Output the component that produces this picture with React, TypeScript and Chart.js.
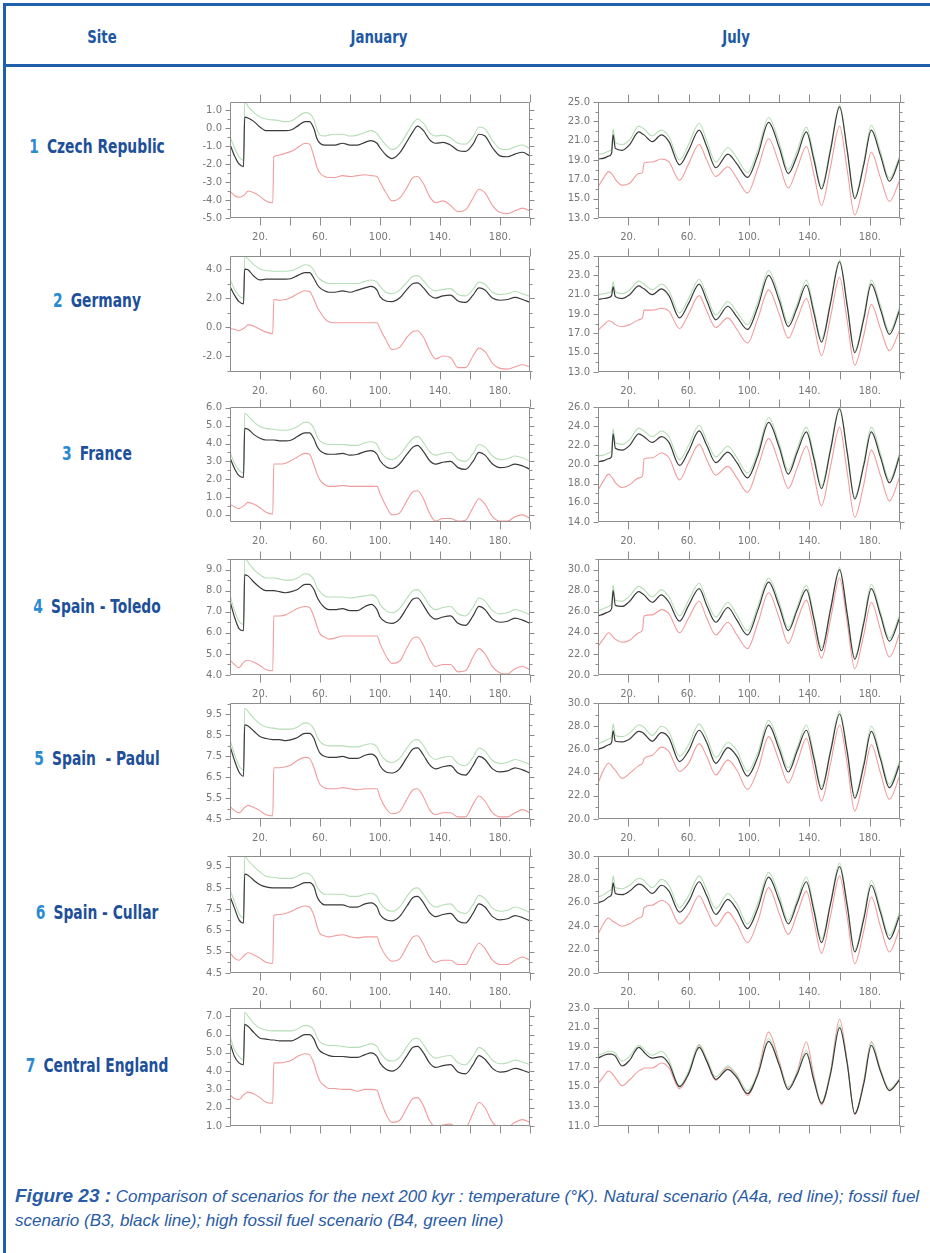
import React, { useEffect, useRef } from "react";
import { Chart, registerables } from "chart.js";

Chart.register(...registerables);

// ---------------- time axis (kyr from present) ----------------
const JAN_KYR = [
  0, 3, 6, 9, 9.8, 12, 16, 20, 24, 28.5, 29.2, 33, 37,
  41, 45, 50, 53, 56, 58, 60, 63, 66, 70, 75, 80, 85,
  90, 94, 98, 100, 104, 108, 113, 118, 122, 125, 129, 133, 137,
  142, 147, 152, 157, 162, 166, 170, 175, 180, 185, 190, 195, 200,
];
const JUL_KYR = [
  0, 4, 7, 9, 10, 11.5, 16, 21, 27, 29.5, 30.5, 36, 42,
  47, 54, 60, 67, 72, 78, 86, 92, 99, 106, 113, 120, 126,
  132, 138, 143, 148, 154, 160, 165, 170, 176, 181, 187, 193, 200,
];
const X_LABELS = [20, 60, 100, 140, 180];
const X_MARKS = [20, 40, 60, 80, 100, 120, 140, 160, 180, 200];

// ---------------- January temperatures ----------------
const czechJanBlack = [
  -0.9, -1.55, -2.0, -2.15, 0.6, 0.55, 0.35, 0.05, -0.15, -0.15, -0.15, -0.15, -0.15,
  -0.1, 0.1, 0.35, 0.35, -0.05, -0.6, -0.85, -0.95, -0.95, -0.95, -0.85, -0.95, -0.95,
  -0.8, -0.7, -0.85, -1.1, -1.5, -1.7, -1.4, -0.75, -0.2, 0.1, -0.15, -0.65, -0.85,
  -0.8, -0.95, -1.25, -1.3, -0.9, -0.35, -0.45, -1.1, -1.55, -1.6, -1.45, -1.35, -1.55,
];
const czechJanGreen = [
  -0.5, -1.1, -1.6, -1.8, 1.45, 1.2, 0.85, 0.6, 0.5, 0.45, 0.45, 0.4, 0.35,
  0.4, 0.6, 0.85, 0.8, 0.45, -0.1, -0.4, -0.45, -0.4, -0.35, -0.35, -0.45, -0.4,
  -0.25, -0.15, -0.3, -0.55, -0.95, -1.2, -0.95, -0.3, 0.25, 0.5, 0.25, -0.25, -0.45,
  -0.4, -0.55, -0.85, -0.9, -0.5, 0.05, -0.05, -0.7, -1.15, -1.2, -1.05, -0.95, -1.15,
];
const czechJanRed = [
  -3.5, -3.75, -3.85, -3.75, -3.7, -3.5, -3.6, -3.8, -4.05, -4.15, -1.6, -1.5, -1.4,
  -1.3, -1.1, -0.85, -0.9, -1.6, -2.2, -2.5, -2.7, -2.75, -2.75, -2.65, -2.7, -2.65,
  -2.6, -2.65, -2.7, -3.0, -3.6, -4.05, -3.9, -3.3, -2.75, -2.7, -3.1, -3.8, -4.15,
  -4.05, -4.3, -4.65, -4.55, -3.9, -3.4, -3.6, -4.3, -4.7, -4.75, -4.6, -4.45, -4.6,
];

const germanyJanBlack = [
  2.8, 2.2, 1.75, 1.6, 4.0, 3.95, 3.5, 3.25, 3.3, 3.3, 3.3, 3.3, 3.3,
  3.35, 3.55, 3.75, 3.75, 3.35, 2.95, 2.7, 2.5, 2.4, 2.4, 2.5, 2.4, 2.55,
  2.7, 2.8, 2.55, 2.1, 1.8, 1.75, 2.0, 2.6, 3.0, 3.05, 2.7, 2.2, 2.0,
  2.15, 2.2, 1.8, 1.7, 2.2, 2.7, 2.55, 2.0, 1.85, 1.9, 2.05, 1.9, 1.7,
];
const germanyJanGreen = [
  3.3, 2.6, 2.15, 2.0, 4.85, 4.7, 4.3, 4.0, 3.9, 3.85, 3.85, 3.85, 3.85,
  3.9, 4.05, 4.3, 4.25, 3.9, 3.5, 3.3, 3.1, 3.0, 3.0, 3.0, 3.0, 3.0,
  3.15, 3.25, 3.1, 2.8, 2.4, 2.3, 2.55, 3.1, 3.5, 3.55, 3.2, 2.7, 2.5,
  2.6, 2.65, 2.25, 2.15, 2.6, 3.1, 2.95, 2.4, 2.25, 2.3, 2.45, 2.3, 2.1,
];
const germanyJanRed = [
  -0.1, -0.15, -0.25, -0.1, -0.05, 0.15, 0.05, -0.15, -0.35, -0.45, 1.9, 1.85, 1.9,
  2.05, 2.3, 2.5, 2.45, 1.9, 1.4, 1.05, 0.6, 0.35, 0.3, 0.3, 0.3, 0.3,
  0.3, 0.3, 0.3, -0.1, -0.9, -1.55, -1.4, -0.7, -0.3, -0.25, -0.7, -1.6, -2.2,
  -2.0, -2.1, -2.8, -2.8, -2.0, -1.45, -1.7, -2.5, -2.85, -2.9, -2.75, -2.6, -2.75,
];

const franceJanBlack = [
  3.2, 2.6, 2.2, 2.1, 4.85, 4.8, 4.5, 4.3, 4.2, 4.2, 4.2, 4.15, 4.15,
  4.2, 4.4, 4.6, 4.6, 4.25, 3.85, 3.6, 3.45, 3.4, 3.4, 3.45, 3.35, 3.4,
  3.55, 3.6, 3.4, 3.05, 2.7, 2.6, 2.85, 3.4, 3.8, 3.9, 3.55, 3.05, 2.85,
  2.95, 3.0, 2.65, 2.55, 3.0, 3.5, 3.35, 2.85, 2.65, 2.7, 2.85, 2.75, 2.55,
];
const franceJanGreen = [
  3.5, 2.9, 2.5, 2.35, 5.7, 5.55, 5.2, 4.95, 4.85, 4.8, 4.8, 4.75, 4.75,
  4.8, 4.95, 5.2, 5.15, 4.85, 4.4, 4.15, 4.0, 3.95, 3.95, 3.95, 3.9, 3.9,
  4.05, 4.1, 3.95, 3.6, 3.2, 3.1, 3.35, 3.9, 4.3, 4.4, 4.05, 3.55, 3.35,
  3.45, 3.5, 3.1, 3.0, 3.45, 3.95, 3.8, 3.3, 3.1, 3.15, 3.3, 3.2, 3.0,
];
const franceJanRed = [
  0.6, 0.45, 0.35, 0.5, 0.55, 0.7, 0.6, 0.4, 0.15, 0.05, 2.85, 2.85, 2.9,
  3.05, 3.25, 3.45, 3.4, 2.8, 2.3, 1.95, 1.7, 1.6, 1.6, 1.65, 1.6, 1.6,
  1.6, 1.6, 1.6, 1.2, 0.5, 0.0, 0.1, 0.8, 1.3, 1.35, 0.9, 0.1, -0.35,
  -0.2, -0.2, -0.35, -0.3, 0.4, 0.9, 0.6, -0.1, -0.35, -0.35, -0.1, 0.0, -0.2,
];

const toledoJanBlack = [
  7.5, 6.75, 6.2, 6.1, 8.75, 8.7, 8.4, 8.15, 8.0, 8.0, 8.0, 7.95, 7.9,
  7.95, 8.05, 8.3, 8.3, 8.05, 7.7, 7.45, 7.2, 7.1, 7.1, 7.15, 7.05, 7.05,
  7.25, 7.35, 7.1, 6.75, 6.5, 6.45, 6.65, 7.2, 7.6, 7.65, 7.3, 6.85, 6.65,
  6.75, 6.8, 6.45, 6.35, 6.8, 7.25, 7.1, 6.65, 6.5, 6.55, 6.7, 6.6, 6.45,
];
const toledoJanGreen = [
  7.8, 7.05, 6.55, 6.4, 9.55, 9.35, 9.0, 8.75, 8.6, 8.6, 8.6, 8.55, 8.5,
  8.5, 8.6, 8.8, 8.75, 8.5, 8.15, 7.95, 7.75, 7.7, 7.7, 7.7, 7.65, 7.7,
  7.75, 7.8, 7.65, 7.35, 7.05, 6.95, 7.15, 7.65, 8.0, 8.05, 7.75, 7.3, 7.1,
  7.2, 7.25, 6.9, 6.8, 7.2, 7.65, 7.5, 7.05, 6.9, 6.95, 7.1, 7.0, 6.85,
];
const toledoJanRed = [
  4.7, 4.5, 4.35, 4.6, 4.65, 4.7, 4.6, 4.45, 4.25, 4.2, 6.8, 6.8, 6.85,
  7.0, 7.15, 7.25, 7.2, 6.75, 6.3, 5.95, 5.8, 5.7, 5.75, 5.85, 5.85, 5.85,
  5.85, 5.85, 5.85, 5.5, 4.9, 4.55, 4.65, 5.3, 5.75, 5.8, 5.4, 4.75, 4.4,
  4.5, 4.5, 4.15, 4.2, 4.85, 5.25, 5.0, 4.4, 4.1, 4.05, 4.3, 4.4, 4.25,
];

const padulJanBlack = [
  8.0, 7.3, 6.75, 6.55, 9.0, 8.95, 8.7, 8.45, 8.35, 8.3, 8.3, 8.3, 8.25,
  8.3, 8.4, 8.6, 8.6, 8.35, 7.95, 7.65, 7.5, 7.45, 7.45, 7.5, 7.4, 7.4,
  7.55, 7.6, 7.4, 7.05, 6.75, 6.7, 6.9, 7.45, 7.85, 7.9, 7.55, 7.1, 6.9,
  7.0, 7.05, 6.7, 6.6, 7.05, 7.5, 7.35, 6.9, 6.75, 6.8, 6.95, 6.85, 6.7,
];
const padulJanGreen = [
  8.3, 7.6, 7.05, 6.85, 9.8, 9.65, 9.3, 9.05, 8.9, 8.85, 8.85, 8.8, 8.8,
  8.8, 8.9, 9.1, 9.05, 8.8, 8.45, 8.2, 8.05, 8.0, 8.0, 8.0, 7.95, 7.95,
  8.05, 8.1, 7.95, 7.65, 7.3, 7.2, 7.4, 7.9, 8.25, 8.3, 8.0, 7.55, 7.35,
  7.45, 7.5, 7.15, 7.05, 7.45, 7.9, 7.75, 7.3, 7.15, 7.2, 7.35, 7.25, 7.1,
];
const padulJanRed = [
  5.1, 4.9, 4.8, 5.0, 5.05, 5.15, 5.05, 4.9, 4.7, 4.65, 6.95, 6.95, 7.0,
  7.1, 7.3, 7.45, 7.4, 6.95, 6.5, 6.15, 6.0, 5.95, 5.95, 6.0, 5.95, 5.9,
  5.95, 5.95, 5.95, 5.55, 5.0, 4.75, 4.85, 5.45, 5.9, 5.95, 5.55, 4.95, 4.7,
  4.8, 4.8, 4.6, 4.6, 5.2, 5.6, 5.35, 4.8, 4.6, 4.6, 4.8, 4.95, 4.8,
];

const cullarJanBlack = [
  8.1, 7.55, 7.0, 6.85, 9.15, 9.1, 8.85, 8.65, 8.55, 8.5, 8.5, 8.5, 8.5,
  8.5, 8.6, 8.75, 8.75, 8.55, 8.1, 7.85, 7.7, 7.7, 7.7, 7.7, 7.6, 7.6,
  7.75, 7.8, 7.6, 7.25, 7.0, 6.95, 7.15, 7.65, 8.05, 8.1, 7.8, 7.35, 7.15,
  7.25, 7.3, 6.95, 6.85, 7.3, 7.75, 7.6, 7.15, 7.0, 7.05, 7.2, 7.1, 6.95,
];
const cullarJanGreen = [
  8.4, 7.85, 7.3, 7.1, 10.0, 9.8, 9.5, 9.25, 9.05, 9.0, 9.0, 8.95, 8.95,
  8.95, 9.05, 9.2, 9.15, 8.9, 8.55, 8.35, 8.2, 8.2, 8.2, 8.2, 8.1, 8.1,
  8.2, 8.25, 8.1, 7.8, 7.5, 7.4, 7.6, 8.1, 8.45, 8.5, 8.2, 7.8, 7.6,
  7.7, 7.75, 7.4, 7.3, 7.7, 8.15, 8.0, 7.55, 7.4, 7.45, 7.6, 7.5, 7.35,
];
const cullarJanRed = [
  5.45, 5.2, 5.1, 5.3, 5.35, 5.45, 5.35, 5.2, 5.0, 4.95, 7.2, 7.25, 7.3,
  7.4, 7.55, 7.65, 7.6, 7.2, 6.7, 6.35, 6.25, 6.2, 6.25, 6.3, 6.2, 6.15,
  6.2, 6.2, 6.2, 5.8, 5.3, 5.05, 5.15, 5.75, 6.2, 6.25, 5.85, 5.25, 5.0,
  5.1, 5.1, 4.9, 4.9, 5.5, 5.9, 5.65, 5.1, 4.9, 4.9, 5.1, 5.25, 5.1,
];

const englandJanBlack = [
  5.55, 4.8, 4.45, 4.35, 6.55, 6.45, 6.1, 5.8, 5.75, 5.7, 5.7, 5.65, 5.65,
  5.65, 5.8, 6.0, 6.0, 5.75, 5.35, 5.1, 4.95, 4.85, 4.8, 4.8, 4.75, 4.75,
  4.9, 5.0, 4.8, 4.45, 4.1, 4.0, 4.25, 4.85, 5.3, 5.35, 5.0, 4.45, 4.2,
  4.3, 4.35, 3.95, 3.85, 4.35, 4.85, 4.65, 4.15, 3.95, 4.0, 4.15, 4.05, 3.9,
];
const englandJanGreen = [
  5.9, 5.15, 4.8, 4.6, 7.2, 7.0, 6.6, 6.35, 6.25, 6.2, 6.2, 6.2, 6.2,
  6.2, 6.3, 6.5, 6.45, 6.25, 5.85, 5.6, 5.45, 5.4, 5.4, 5.35, 5.3, 5.3,
  5.4, 5.5, 5.35, 5.05, 4.65, 4.55, 4.75, 5.35, 5.75, 5.8, 5.45, 4.95, 4.7,
  4.8, 4.85, 4.45, 4.35, 4.8, 5.3, 5.1, 4.6, 4.4, 4.45, 4.6, 4.5, 4.35,
];
const englandJanRed = [
  2.7, 2.5, 2.45, 2.7, 2.75, 2.85, 2.75, 2.55, 2.3, 2.25, 4.45, 4.45, 4.5,
  4.6, 4.8, 4.95, 4.9, 4.4, 3.85, 3.45, 3.2, 3.05, 3.05, 3.0, 3.0, 2.9,
  3.0, 3.0, 2.95, 2.5, 1.65, 1.2, 1.3, 2.0, 2.5, 2.55, 2.1, 1.3, 0.95,
  1.05, 1.1, 0.85, 0.9, 1.7, 2.3, 2.0, 1.2, 0.95, 0.95, 1.2, 1.35, 1.2,
];

// ---------------- July temperatures ----------------
const czechJulBlack = [
  19.1, 19.2, 19.4, 19.7, 21.6, 20.2, 20.0, 20.6, 21.9, 21.7, 21.6, 20.9, 21.6,
  20.9, 18.5, 20.0, 22.1, 20.4, 18.2, 19.6, 18.6, 17.2, 19.6, 22.9, 20.3, 17.6,
  19.5, 21.9, 19.0, 16.0, 20.0, 24.5, 20.0, 15.0, 18.5, 22.1, 19.5, 16.8, 19.2,
];
const czechJulGreen = [
  19.6, 19.7, 19.9, 20.2, 22.2, 20.8, 20.6, 21.1, 22.5, 22.3, 22.2, 21.5, 22.1,
  21.4, 19.0, 20.6, 22.8, 21.0, 18.8, 20.3, 19.2, 17.7, 20.1, 23.4, 20.8, 18.0,
  20.0, 22.4, 19.4, 16.3, 20.3, 24.7, 20.2, 15.2, 18.8, 22.6, 19.9, 17.1, 19.5,
];
const czechJulRed = [
  16.2, 17.2, 17.8, 17.6, 17.4, 17.0, 16.4, 16.6, 17.6, 17.7, 18.7, 18.8, 19.1,
  18.8, 16.9, 18.6, 20.6, 19.0, 17.3, 18.3, 17.1, 15.6, 18.2, 21.2, 18.6, 16.1,
  18.2, 20.4, 17.5, 14.3, 18.3, 22.5, 18.0, 13.3, 16.5, 19.8, 17.2, 14.7, 17.0,
];

const germanyJulBlack = [
  20.5, 20.6, 20.7, 20.9, 21.8, 20.8, 20.6, 21.0, 21.9, 21.7, 21.6, 21.0, 21.6,
  20.9, 18.6, 20.1, 22.1, 20.4, 18.4, 19.8, 18.7, 17.4, 19.8, 23.0, 20.4, 17.7,
  19.7, 22.0, 19.1, 16.1, 20.1, 24.4, 19.9, 15.0, 18.5, 22.1, 19.5, 16.9, 19.5,
];
const germanyJulGreen = [
  21.0, 21.1, 21.2, 21.4, 22.3, 21.3, 21.1, 21.5, 22.4, 22.2, 22.1, 21.5, 22.1,
  21.4, 19.1, 20.6, 22.6, 20.9, 18.9, 20.3, 19.2, 17.9, 20.3, 23.5, 20.9, 18.1,
  20.1, 22.5, 19.5, 16.4, 20.4, 24.6, 20.1, 15.2, 18.8, 22.5, 19.9, 17.2, 19.8,
];
const germanyJulRed = [
  17.3, 17.9, 18.3, 18.2, 18.1, 17.9, 17.7, 17.9, 18.4, 18.6, 19.4, 19.4, 19.6,
  19.3, 17.5, 19.0, 20.9, 19.3, 17.6, 18.6, 17.4, 16.0, 18.6, 21.5, 19.0, 16.5,
  18.5, 20.6, 17.8, 14.7, 18.7, 22.8, 18.3, 13.7, 16.8, 20.0, 17.5, 15.2, 17.4,
];

const franceJulBlack = [
  20.3, 20.4, 20.6, 20.8, 23.2, 21.7, 21.5, 22.0, 23.2, 23.0, 22.9, 22.3, 22.9,
  22.3, 19.9, 21.4, 23.5, 22.0, 20.2, 21.3, 20.2, 18.6, 21.0, 24.4, 21.8, 19.0,
  21.3, 23.4, 20.6, 17.5, 21.5, 25.8, 21.3, 16.4, 19.9, 23.4, 20.8, 18.1, 21.0,
];
const franceJulGreen = [
  20.9, 21.0, 21.2, 21.5, 23.7, 22.3, 22.1, 22.6, 23.8, 23.6, 23.5, 22.9, 23.5,
  22.9, 20.5, 22.0, 24.1, 22.5, 20.8, 21.9, 20.7, 19.1, 21.4, 24.9, 22.2, 19.4,
  21.7, 23.9, 21.0, 17.8, 21.8, 26.0, 21.5, 16.6, 20.2, 23.9, 21.2, 18.4, 21.3,
];
const franceJulRed = [
  17.3, 18.4, 19.0, 18.7, 18.5, 18.1, 17.6, 17.9, 18.6, 18.8, 20.6, 20.7, 21.2,
  20.7, 18.4, 20.2, 22.1, 20.5, 18.9, 19.8, 18.6, 17.1, 19.8, 22.7, 20.1, 17.5,
  19.7, 21.9, 18.9, 15.7, 19.8, 23.9, 19.2, 14.5, 17.9, 21.5, 18.9, 16.2, 18.8,
];

const toledoJulBlack = [
  25.6, 25.8, 26.0, 26.3, 28.0, 26.6, 26.5, 27.0, 27.9, 27.7, 27.6, 26.9, 27.6,
  26.9, 25.1, 26.6, 28.2, 26.6, 25.0, 26.4, 25.2, 23.8, 26.2, 28.8, 26.5, 24.2,
  26.2, 28.1, 25.3, 22.3, 26.2, 30.0, 25.8, 21.5, 24.9, 28.2, 25.7, 23.2, 25.5,
];
const toledoJulGreen = [
  26.1, 26.3, 26.5, 26.8, 28.5, 27.1, 27.0, 27.5, 28.4, 28.2, 28.1, 27.4, 28.1,
  27.4, 25.6, 27.1, 28.7, 27.1, 25.5, 26.9, 25.7, 24.2, 26.6, 29.2, 26.9, 24.5,
  26.5, 28.5, 25.6, 22.6, 26.4, 30.2, 26.0, 21.7, 25.2, 28.6, 26.0, 23.5, 25.8,
];
const toledoJulRed = [
  22.7, 23.5, 24.0, 23.8, 23.6, 23.4, 23.1, 23.3, 24.0, 24.3, 25.6, 25.7, 26.2,
  25.8, 24.0, 25.4, 27.0, 25.4, 23.8, 25.0, 23.8, 22.5, 25.0, 27.8, 25.4, 23.0,
  25.2, 27.1, 24.4, 21.6, 25.3, 29.2, 25.0, 20.6, 23.8, 26.9, 24.3, 21.7, 24.0,
];

const padulJulBlack = [
  26.0, 26.2, 26.4, 26.6, 27.6, 26.7, 26.65, 26.9, 27.55, 27.45, 27.35, 26.7, 27.45,
  27.0, 24.95, 25.9, 27.65, 26.6, 24.8, 26.15, 25.4, 23.7, 25.4, 28.1, 26.0, 24.05,
  25.9, 27.65, 25.2, 22.55, 25.8, 29.05, 25.8, 21.8, 24.6, 27.55, 25.2, 22.7, 24.8,
];
const padulJulGreen = [
  26.5, 26.7, 26.9, 27.1, 28.2, 27.2, 27.1, 27.4, 28.1, 28.0, 27.9, 27.2, 28.0,
  27.5, 25.4, 26.4, 28.2, 27.1, 25.3, 26.6, 25.9, 24.1, 25.8, 28.5, 26.4, 24.4,
  26.2, 28.1, 25.5, 22.8, 26.0, 29.3, 26.0, 22.0, 24.9, 28.0, 25.5, 23.0, 25.1,
];
const padulJulRed = [
  23.1, 24.3, 24.8, 24.6, 24.4, 24.2, 23.5, 23.95, 24.6, 24.8, 25.2, 25.5, 26.2,
  25.8, 24.1, 24.8, 26.5, 25.4, 23.8, 25.1, 24.2, 22.55, 24.3, 27.1, 25.0, 23.1,
  24.9, 26.95, 24.3, 21.55, 24.8, 28.1, 24.8, 20.7, 23.6, 26.4, 24.0, 21.7, 23.8,
];

const cullarJulBlack = [
  26.0, 26.2, 26.5, 26.7, 27.7, 26.8, 26.7, 27.0, 27.6, 27.5, 27.4, 26.8, 27.5,
  27.0, 25.2, 26.1, 27.8, 26.6, 25.0, 26.3, 25.4, 23.8, 25.6, 28.2, 26.2, 24.2,
  26.0, 27.8, 25.3, 22.6, 25.9, 29.1, 25.8, 21.8, 24.6, 27.5, 25.2, 22.9, 25.0,
];
const cullarJulGreen = [
  26.5, 26.7, 27.0, 27.2, 28.3, 27.3, 27.2, 27.5, 28.1, 28.0, 27.9, 27.3, 28.0,
  27.5, 25.6, 26.6, 28.3, 27.1, 25.5, 26.8, 25.9, 24.2, 26.0, 28.6, 26.6, 24.5,
  26.3, 28.2, 25.6, 22.9, 26.1, 29.4, 26.0, 22.0, 24.9, 27.9, 25.5, 23.2, 25.3,
];
const cullarJulRed = [
  23.3, 24.3, 24.7, 24.5, 24.4, 24.3, 24.0, 24.2, 24.7, 24.9, 25.6, 25.8, 26.2,
  25.8, 24.2, 25.0, 26.6, 25.4, 24.0, 25.2, 24.2, 22.6, 24.5, 27.3, 25.1, 23.3,
  25.1, 27.0, 24.4, 21.7, 24.9, 28.3, 24.8, 20.8, 23.6, 26.5, 24.0, 21.8, 23.9,
];

const englandJulBlack = [
  17.9, 18.2, 18.3, 18.3, 18.25, 18.1, 17.1, 17.7, 19.0, 18.7, 18.5, 17.9, 18.05,
  17.3, 15.0, 16.3, 19.0, 17.6, 15.75, 16.75, 15.9, 14.3, 16.3, 19.6, 17.2, 14.7,
  16.3, 18.4, 15.6, 13.3, 16.3, 21.0, 17.4, 12.25, 15.3, 19.2, 16.6, 14.6, 15.75,
];
const englandJulGreen = [
  18.2, 18.4, 18.6, 18.6, 18.55, 18.4, 17.6, 18.1, 19.2, 19.0, 18.8, 18.2, 18.6,
  17.7, 15.1, 16.6, 19.3, 17.9, 16.0, 17.1, 16.2, 14.6, 16.5, 19.9, 17.4, 14.9,
  16.5, 18.7, 15.8, 13.4, 16.5, 21.3, 17.5, 12.3, 15.4, 19.5, 16.8, 14.8, 15.9,
];
const englandJulRed = [
  15.3, 16.1, 16.6, 16.4, 16.2, 15.9, 15.1, 15.7, 16.6, 16.8, 16.9, 16.9, 17.4,
  16.9, 14.8, 16.3, 19.2, 17.6, 15.65, 17.0, 16.1, 14.1, 16.6, 20.55, 17.6, 14.95,
  16.6, 19.55, 16.1, 13.15, 16.6, 21.85, 17.6, 12.15, 15.6, 19.6, 16.75, 14.6, 15.85,
];

// ---------------- axis ranges and tick labels ----------------
const czechJanRange = [-5, 1.44];
const czechJanTicks = [1, 0, -1, -2, -3, -4, -5];
const germanyJanRange = [-3.1, 4.9];
const germanyJanTicks = [4, 2, 0, -2];
const franceJanRange = [-0.4, 6.05];
const franceJanTicks = [6, 5, 4, 3, 2, 1, 0];
const toledoJanRange = [4, 9.5];
const toledoJanTicks = [9, 8, 7, 6, 5, 4];
const padulJanRange = [4.5, 10.05];
const padulJanTicks = [9.5, 8.5, 7.5, 6.5, 5.5, 4.5];
const cullarJanRange = [4.5, 10.0];
const cullarJanTicks = [9.5, 8.5, 7.5, 6.5, 5.5, 4.5];
const englandJanRange = [1, 7.45];
const englandJanTicks = [7, 6, 5, 4, 3, 2, 1];

const czechJulRange = [13, 25];
const czechJulTicks = [25, 23, 21, 19, 17, 15, 13];
const germanyJulRange = [13, 25];
const germanyJulTicks = [25, 23, 21, 19, 17, 15, 13];
const franceJulRange = [14, 26];
const franceJulTicks = [26, 24, 22, 20, 18, 16, 14];
const toledoJulRange = [20, 31];
const toledoJulTicks = [30, 28, 26, 24, 22, 20];
const padulJulRange = [20, 30];
const padulJulTicks = [30, 28, 26, 24, 22, 20];
const cullarJulRange = [20, 30];
const cullarJulTicks = [30, 28, 26, 24, 22, 20];
const englandJulRange = [11, 23];
const englandJulTicks = [23, 21, 19, 17, 15, 13, 11];

const SITE_NUMBERS = ["1", "2", "3", "4", "5", "6", "7"];
const SITE_NAMES = [
  "Czech Republic",
  "Germany",
  "France",
  "Spain - Toledo",
  "Spain  - Padul",
  "Spain - Cullar",
  "Central England",
];
const HEADERS = ["Site", "January", "July"];
const CAPTION_LEAD = "Figure 23 :";
const CAPTION_LINE1 =
  " Comparison of scenarios for the next 200 kyr : temperature (°K). Natural scenario (A4a, red line); fossil fuel";
const CAPTION_LINE2 = "scenario (B3, black line); high fossil fuel scenario (B4, green line)";

// ---------------- panel tables ----------------
type PanelData = {
  black: number[];
  green: number[];
  red: number[];
  range: number[];
  ticks: number[];
};

const JAN_PANELS: PanelData[] = [
  { black: czechJanBlack, green: czechJanGreen, red: czechJanRed, range: czechJanRange, ticks: czechJanTicks },
  { black: germanyJanBlack, green: germanyJanGreen, red: germanyJanRed, range: germanyJanRange, ticks: germanyJanTicks },
  { black: franceJanBlack, green: franceJanGreen, red: franceJanRed, range: franceJanRange, ticks: franceJanTicks },
  { black: toledoJanBlack, green: toledoJanGreen, red: toledoJanRed, range: toledoJanRange, ticks: toledoJanTicks },
  { black: padulJanBlack, green: padulJanGreen, red: padulJanRed, range: padulJanRange, ticks: padulJanTicks },
  { black: cullarJanBlack, green: cullarJanGreen, red: cullarJanRed, range: cullarJanRange, ticks: cullarJanTicks },
  { black: englandJanBlack, green: englandJanGreen, red: englandJanRed, range: englandJanRange, ticks: englandJanTicks },
];
const JUL_PANELS: PanelData[] = [
  { black: czechJulBlack, green: czechJulGreen, red: czechJulRed, range: czechJulRange, ticks: czechJulTicks },
  { black: germanyJulBlack, green: germanyJulGreen, red: germanyJulRed, range: germanyJulRange, ticks: germanyJulTicks },
  { black: franceJulBlack, green: franceJulGreen, red: franceJulRed, range: franceJulRange, ticks: franceJulTicks },
  { black: toledoJulBlack, green: toledoJulGreen, red: toledoJulRed, range: toledoJulRange, ticks: toledoJulTicks },
  { black: padulJulBlack, green: padulJulGreen, red: padulJulRed, range: padulJulRange, ticks: padulJulTicks },
  { black: cullarJulBlack, green: cullarJulGreen, red: cullarJulRed, range: cullarJulRange, ticks: cullarJulTicks },
  { black: englandJulBlack, green: englandJulGreen, red: englandJulRed, range: englandJulRange, ticks: englandJulTicks },
];

// ---------------- layout & style ----------------
const ROW_TOP = [100, 254, 405, 557, 701, 854, 1006];
const ROW_H = [118, 118, 117, 118, 118, 119, 120];
const ROW_LABEL_Y = [146, 300, 453, 606, 758, 912, 1065];
const HEADER_CX = [102, 379, 736];
const JAN_LEFT = 230;
const JAN_W = 300;
const JUL_LEFT = 598;
const JUL_W = 302;
const AXIS_W = 45;
const AXIS_H = 28;
const PAD_T = 12;
const PAD_R = 12;

const FRAME_BLUE = "#1f5fab";
const HEAD_BLUE = "#1d58a3";
const NUM_BLUE = "#2a8ad0";
const NAME_BLUE = "#1d4f9b";
const CAPTION_BLUE = "#2a5ba6";
const AXIS_GRAY = "#8c8c8c";
const LABEL_GRAY = "#777777";
const BLACK_LINE = "#3a3a3a";
const RED_LINE = "#f19c9c";
const GREEN_LINE = "#b6deb6";
const BOLD_FONT = "'DejaVu Sans Condensed', 'DejaVu Sans', sans-serif";
const TICK_FONT = "'DejaVu Sans', 'Liberation Sans', sans-serif";
const CAPTION_FONT = "'Liberation Sans', 'DejaVu Sans', sans-serif";

// Box around the plot with outward tick marks on all four sides.
const frameTicks = {
  id: "frameTicks",
  afterDatasetsDraw(chart: any, _args: any, opts: any) {
    const { ctx, chartArea } = chart;
    const xs = chart.scales.x;
    const ys = chart.scales.y;
    const L = Math.round(chartArea.left) + 0.5;
    const R = Math.round(chartArea.right) - 0.5;
    const T = Math.round(chartArea.top) + 0.5;
    const B = Math.round(chartArea.bottom) - 0.5;
    const labels: number[] = opts.labels;
    const [lo, hi] = opts.range;
    const step = Math.abs(labels[0] - labels[1]);
    const minors: number[] = [];
    for (const v of labels) {
      for (const m of [v - step / 2, v + step / 2]) {
        if (m >= lo - 1e-6 && m <= hi + 1e-6 && !minors.some((q) => Math.abs(q - m) < 1e-6)) minors.push(m);
      }
    }
    ctx.save();
    ctx.strokeStyle = AXIS_GRAY;
    ctx.lineWidth = 1;
    ctx.beginPath();
    ctx.rect(L, T, R - L, B - T);
    for (const v of X_MARKS) {
      const px = Math.round(xs.getPixelForValue(v)) + 0.5;
      ctx.moveTo(px, B);
      ctx.lineTo(px, B + 8);
      ctx.moveTo(px, T);
      ctx.lineTo(px, T - 8);
    }
    for (const v of labels) {
      const py = Math.round(ys.getPixelForValue(v)) + 0.5;
      ctx.moveTo(L - 5, py);
      ctx.lineTo(L, py);
      ctx.moveTo(R, py);
      ctx.lineTo(R + 5, py);
    }
    for (const v of minors) {
      const py = Math.round(ys.getPixelForValue(v)) + 0.5;
      ctx.moveTo(L - 3, py);
      ctx.lineTo(L, py);
      ctx.moveTo(R, py);
      ctx.lineTo(R + 3, py);
    }
    ctx.stroke();
    ctx.restore();
  },
};

type PanelProps = {
  kyr: number[];
  panel: PanelData;
  left: number;
  top: number;
  plotW: number;
  plotH: number;
  showX: boolean;
};

function Panel({ kyr, panel, left, top, plotW, plotH, showX }: PanelProps) {
  const ref = useRef<HTMLCanvasElement | null>(null);
  const width = AXIS_W + plotW + PAD_R;
  const height = PAD_T + plotH + AXIS_H;

  useEffect(() => {
    if (!ref.current) return;
    const pts = (arr: number[]) => kyr.map((x, i) => ({ x, y: arr[i] }));
    const chart = new Chart(ref.current, {
      type: "line",
      data: {
        datasets: [
          { data: pts(panel.black), borderColor: BLACK_LINE, borderWidth: 1.2 },
          { data: pts(panel.green), borderColor: GREEN_LINE, borderWidth: 1.1 },
          { data: pts(panel.red), borderColor: RED_LINE, borderWidth: 1.1 },
        ],
      },
      options: {
        responsive: false,
        animation: false,
        events: [],
        layout: { padding: { left: 0, right: PAD_R, top: PAD_T, bottom: 0 } },
        elements: {
          point: { radius: 0 },
          line: { cubicInterpolationMode: "monotone", fill: false },
        },
        plugins: {
          legend: { display: false },
          tooltip: { enabled: false },
          frameTicks: { labels: panel.ticks, range: panel.range },
        } as any,
        scales: {
          x: {
            type: "linear",
            min: 0,
            max: 200,
            grid: { display: false, drawTicks: false },
            border: { display: false },
            afterBuildTicks: (s: any) => {
              s.ticks = X_LABELS.map((value) => ({ value }));
            },
            afterFit: (s: any) => {
              s.height = AXIS_H;
            },
            ticks: {
              display: showX,
              autoSkip: false,
              maxRotation: 0,
              padding: 13,
              color: LABEL_GRAY,
              font: { family: TICK_FONT, size: 10 },
              callback: (v: any) => `${v}.`,
            },
          },
          y: {
            type: "linear",
            min: panel.range[0],
            max: panel.range[1],
            grid: { display: false, drawTicks: false },
            border: { display: false },
            afterBuildTicks: (s: any) => {
              s.ticks = panel.ticks.map((value) => ({ value }));
            },
            afterFit: (s: any) => {
              s.width = AXIS_W;
            },
            ticks: {
              autoSkip: false,
              padding: 8,
              color: LABEL_GRAY,
              font: { family: TICK_FONT, size: 10 },
              callback: (v: any) => Number(v).toFixed(1),
            },
          },
        },
      },
      plugins: [frameTicks],
    } as any);
    return () => chart.destroy();
  }, [kyr, panel, showX]);

  return (
    <canvas
      ref={ref}
      width={width}
      height={height}
      style={{ position: "absolute", left: left - AXIS_W, top: top - PAD_T, width, height }}
    />
  );
}

export default function App() {
  return (
    <div
      style={{
        position: "absolute",
        left: 0,
        top: 0,
        width: 930,
        height: 1253,
        background: "#ffffff",
        overflow: "hidden",
        fontFamily: BOLD_FONT,
      }}
    >
      {/* table frame */}
      <div style={{ position: "absolute", left: 3, top: 3, width: 960, height: 3, background: FRAME_BLUE }} />
      <div style={{ position: "absolute", left: 3, top: 3, width: 3, height: 1260, background: FRAME_BLUE }} />
      <div style={{ position: "absolute", left: 3, top: 64, width: 960, height: 3, background: FRAME_BLUE }} />

      {/* column headers */}
      {HEADERS.map((text, i) => (
        <div
          key={text}
          style={{
            position: "absolute",
            left: HEADER_CX[i] - 100,
            width: 200,
            top: 25,
            height: 24,
            lineHeight: "24px",
            textAlign: "center",
            color: HEAD_BLUE,
            fontWeight: 700,
            fontSize: 18,
            transform: "scaleX(0.82)",
            transformOrigin: "100px 50%",
          }}
        >
          {text}
        </div>
      ))}

      {/* site names */}
      {SITE_NAMES.map((name, i) => (
        <div
          key={name}
          style={{
            position: "absolute",
            left: 0,
            width: 194,
            top: ROW_LABEL_Y[i] - 12,
            height: 24,
            lineHeight: "24px",
            textAlign: "center",
            fontWeight: 700,
            fontSize: 19,
            whiteSpace: "pre",
            transform: "scaleX(0.81)",
            transformOrigin: "97px 50%",
          }}
        >
          <span style={{ color: NUM_BLUE, marginRight: 10 }}>{SITE_NUMBERS[i]}</span>
          <span style={{ color: NAME_BLUE }}>{name}</span>
        </div>
      ))}

      {/* charts */}
      {JAN_PANELS.map((p, i) => (
        <Panel
          key={"jan" + i}
          kyr={JAN_KYR}
          panel={p}
          left={JAN_LEFT}
          top={ROW_TOP[i]}
          plotW={JAN_W}
          plotH={ROW_H[i]}
          showX={i < 6}
        />
      ))}
      {JUL_PANELS.map((p, i) => (
        <Panel
          key={"jul" + i}
          kyr={JUL_KYR}
          panel={p}
          left={JUL_LEFT}
          top={ROW_TOP[i]}
          plotW={JUL_W}
          plotH={ROW_H[i]}
          showX={i < 6}
        />
      ))}

      {/* caption */}
      <div
        style={{
          position: "absolute",
          left: 15,
          top: 1184,
          width: 930,
          color: CAPTION_BLUE,
          fontStyle: "italic",
          fontSize: 17,
          lineHeight: "24px",
          fontFamily: CAPTION_FONT,
          whiteSpace: "pre",
        }}
      >
        <div>
          <span style={{ fontWeight: 700, fontSize: 19 }}>{CAPTION_LEAD}</span>
          {CAPTION_LINE1}
        </div>
        <div>{CAPTION_LINE2}</div>
      </div>
    </div>
  );
}
